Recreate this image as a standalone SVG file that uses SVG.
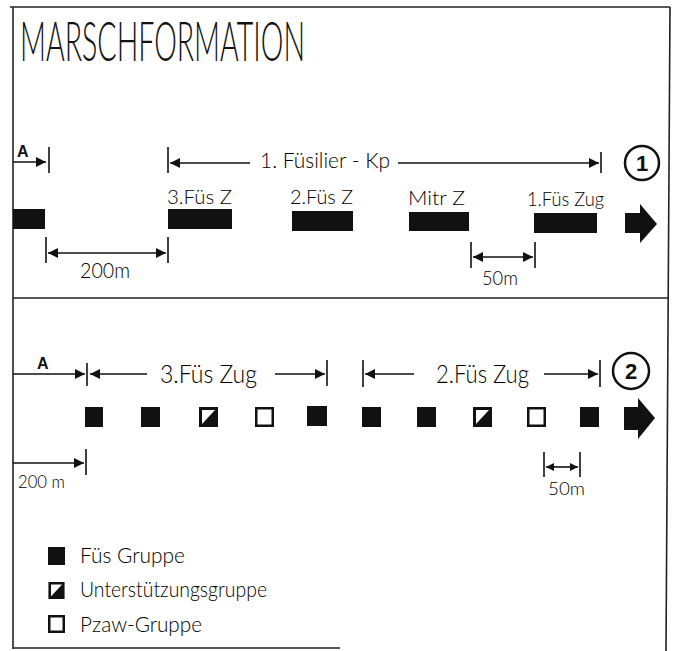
<svg xmlns="http://www.w3.org/2000/svg" width="676" height="651" viewBox="0 0 676 651">
<style>
.frame{stroke:#222;stroke-width:1.6;fill:none}
.ln{stroke:#111;stroke-width:1.6;fill:none}
.tk{stroke:#111;stroke-width:1.6}
.bar{fill:#111}
.hand{font-family:Lato,"DejaVu Sans","Liberation Sans",sans-serif;font-weight:300;fill:#000}
.bold{font-family:"Liberation Sans",Arial,sans-serif;font-weight:bold;fill:#111}
.title{font-family:Lato,"DejaVu Sans","Liberation Sans",sans-serif;font-weight:300;fill:#111}
.sq{fill:#111}
.open{fill:#fff;stroke:#111;stroke-width:2.5}
.circ{fill:#fff;stroke:#111;stroke-width:2.5}
</style>
<defs>
<marker id="ah" viewBox="0 0 10 10" refX="10" refY="5" markerWidth="11" markerHeight="10" markerUnits="userSpaceOnUse" orient="auto-start-reverse">
<path d="M0,0 L10,5 L0,10 z" fill="#111"/>
</marker>
<marker id="ahs" viewBox="0 0 10 10" refX="10" refY="5" markerWidth="8" markerHeight="8" markerUnits="userSpaceOnUse" orient="auto-start-reverse">
<path d="M0,0 L10,5 L0,10 z" fill="#111"/>
</marker>
<symbol id="half" viewBox="0 0 19 20" overflow="visible">
<rect x="0" y="0" width="19" height="20" fill="#111"/>
<path d="M3,3 L16,3 L3,17 z" fill="#fff"/>
</symbol>
</defs>
<rect width="676" height="651" fill="#fff"/>

<g id="frame">
<path class="frame" d="M10,7 L670,7"/>
<path class="frame" d="M13,7 L13,649"/>
<path class="frame" d="M670,7 L666,651"/>
<path class="frame" d="M13,298 L669,298"/>
<path class="frame" d="M13,648 L340,648"/>
</g>

<g id="title">
<text class="title" x="20" y="61" font-size="56" textLength="285" lengthAdjust="spacingAndGlyphs">MARSCHFORMATION</text>
</g>

<!-- Section 1 -->
<g id="s1-badge">
<circle class="circ" cx="642" cy="163" r="17"/>
<text class="bold" x="642" y="171" font-size="22" text-anchor="middle">1</text>
</g>
<g id="s1-lead"><rect class="bar" x="13" y="209" width="32" height="20"/></g>
<g id="s1-z3">
<rect class="bar" x="168" y="209" width="64" height="20"/>
<text class="hand" x="167" y="204" font-size="20" textLength="65" lengthAdjust="spacingAndGlyphs">3.Füs Z</text>
</g>
<g id="s1-z2">
<rect class="bar" x="292" y="211" width="61" height="20"/>
<text class="hand" x="290" y="204" font-size="20" textLength="63" lengthAdjust="spacingAndGlyphs">2.Füs Z</text>
</g>
<g id="s1-mitr">
<rect class="bar" x="409" y="212" width="60" height="19"/>
<text class="hand" x="408" y="205" font-size="20" textLength="57" lengthAdjust="spacingAndGlyphs">Mitr Z</text>
</g>
<g id="s1-z1">
<rect class="bar" x="534" y="213" width="63" height="20"/>
<text class="hand" x="527" y="206" font-size="20" textLength="77" lengthAdjust="spacingAndGlyphs">1.Füs Zug</text>
</g>
<g id="s1-dir"><path class="bar" d="M625,213 L640,213 L640,204 L657,224 L640,243 L640,233 L625,233 z"/></g>

<!-- Section 2 -->
<g id="s2-badge">
<circle class="circ" cx="631" cy="371" r="18"/>
<text class="bold" x="631" y="379" font-size="22" text-anchor="middle">2</text>
</g>
<g id="s2-g1"><rect class="sq" x="85" y="407" width="18" height="20"/></g>
<g id="s2-g2"><rect class="sq" x="141" y="407" width="19" height="20"/></g>
<g id="s2-g3"><use href="#half" x="199" y="407" width="19" height="20"/></g>
<g id="s2-g4"><rect class="open" x="256.25" y="408.25" width="16.5" height="17.5"/></g>
<g id="s2-g5"><rect class="sq" x="307" y="406" width="20" height="20"/></g>
<g id="s2-g6"><rect class="sq" x="362" y="407" width="19" height="20"/></g>
<g id="s2-g7"><rect class="sq" x="417" y="407" width="19" height="20"/></g>
<g id="s2-g8"><use href="#half" x="473" y="407" width="19" height="20"/></g>
<g id="s2-g9"><rect class="open" x="528.25" y="408.25" width="16.5" height="17.5"/></g>
<g id="s2-g10"><rect class="sq" x="580" y="407" width="19" height="20"/></g>
<g id="s2-dir"><path class="bar" d="M624,407 L638,407 L638,398 L655,418 L638,439 L638,430 L624,430 z"/></g>

<!-- Legend -->
<g id="legend-fus">
<rect class="sq" x="48" y="547" width="17" height="18"/>
<text class="hand" x="80" y="563" font-size="21" textLength="105" lengthAdjust="spacingAndGlyphs">Füs Gruppe</text>
</g>
<g id="legend-unt">
<use href="#half" x="48" y="582" width="17" height="17"/>
<text class="hand" x="80" y="597" font-size="21" textLength="187" lengthAdjust="spacingAndGlyphs">Unterstützungsgruppe</text>
</g>
<g id="legend-pzaw">
<rect class="open" x="49.25" y="616.25" width="14.5" height="15.5"/>
<text class="hand" x="80" y="632" font-size="21" textLength="122" lengthAdjust="spacingAndGlyphs">Pzaw-Gruppe</text>
</g>

<!-- Connectors / dimension lines -->
<g id="connectors">
<!-- section 1 -->
<text class="bold" x="17" y="157" font-size="16">A</text>
<line class="ln" x1="13" y1="162" x2="46" y2="162" marker-end="url(#ah)"/>
<line class="tk" x1="49" y1="147" x2="49" y2="173"/>
<line class="tk" x1="168" y1="147" x2="168" y2="173"/>
<line class="ln" x1="250" y1="163" x2="170" y2="163" marker-end="url(#ah)"/>
<text class="hand" x="260" y="168" font-size="21" textLength="130" lengthAdjust="spacingAndGlyphs">1. Füsilier - Kp</text>
<line class="ln" x1="398" y1="163" x2="599" y2="163" marker-end="url(#ah)"/>
<line class="tk" x1="601" y1="152" x2="601" y2="173"/>
<line class="tk" x1="46" y1="237" x2="46" y2="263"/>
<line class="tk" x1="168" y1="237" x2="168" y2="263"/>
<line class="ln" x1="48" y1="253" x2="166" y2="253" marker-start="url(#ah)" marker-end="url(#ah)"/>
<text class="hand" x="80" y="278" font-size="21" textLength="50" lengthAdjust="spacingAndGlyphs">200m</text>
<line class="tk" x1="471" y1="242" x2="471" y2="268"/>
<line class="tk" x1="535" y1="242" x2="535" y2="268"/>
<line class="ln" x1="473" y1="257" x2="533" y2="257" marker-start="url(#ah)" marker-end="url(#ah)"/>
<text class="hand" x="482" y="285" font-size="19" textLength="36" lengthAdjust="spacingAndGlyphs">50m</text>
<!-- section 2 -->
<text class="bold" x="37" y="369" font-size="16">A</text>
<line class="ln" x1="13" y1="374" x2="85" y2="374" marker-end="url(#ah)"/>
<line class="tk" x1="87" y1="363" x2="87" y2="386"/>
<line class="ln" x1="147" y1="374" x2="90" y2="374" marker-end="url(#ah)"/>
<text class="hand" x="160" y="383" font-size="25" textLength="97" lengthAdjust="spacingAndGlyphs">3.Füs Zug</text>
<line class="ln" x1="275" y1="374" x2="325" y2="374" marker-end="url(#ah)"/>
<line class="tk" x1="327" y1="360" x2="327" y2="386"/>
<line class="tk" x1="363" y1="360" x2="363" y2="387"/>
<line class="ln" x1="414" y1="374" x2="365" y2="374" marker-end="url(#ah)"/>
<text class="hand" x="436" y="383" font-size="25" textLength="93" lengthAdjust="spacingAndGlyphs">2.Füs Zug</text>
<line class="ln" x1="544" y1="374" x2="598" y2="374" marker-end="url(#ah)"/>
<line class="tk" x1="600" y1="360" x2="600" y2="387"/>
<line class="ln" x1="13" y1="463" x2="84" y2="463" marker-end="url(#ah)"/>
<line class="tk" x1="86" y1="449" x2="86" y2="475"/>
<text class="hand" x="18" y="488" font-size="18" textLength="47" lengthAdjust="spacingAndGlyphs">200 m</text>
<line class="tk" x1="544" y1="452" x2="544" y2="477"/>
<line class="tk" x1="580" y1="452" x2="580" y2="477"/>
<line class="ln" x1="546" y1="467" x2="578" y2="467" marker-start="url(#ahs)" marker-end="url(#ahs)"/>
<text class="hand" x="548" y="495" font-size="18" textLength="37" lengthAdjust="spacingAndGlyphs">50m</text>
</g>
</svg>
